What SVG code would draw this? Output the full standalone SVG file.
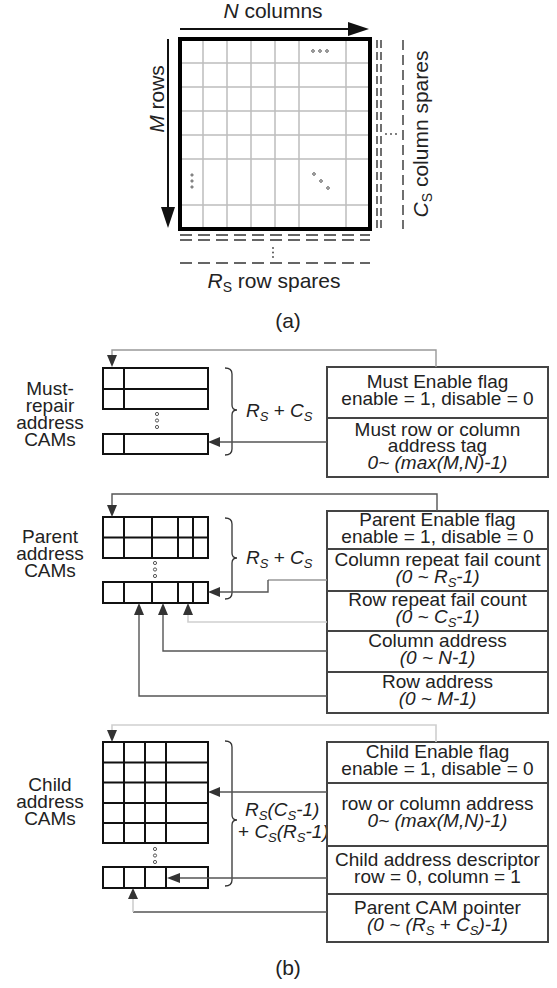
<svg xmlns="http://www.w3.org/2000/svg" width="557" height="988" viewBox="0 0 557 988">
<style>
.t{font-family:"Liberation Sans",Arial,sans-serif;font-size:19px;fill:#222;text-anchor:middle}
.ta{font-family:"Liberation Sans",Arial,sans-serif;font-size:21px;fill:#222;text-anchor:middle}
.l{font-family:"Liberation Sans",Arial,sans-serif;font-size:19px;fill:#222;text-anchor:start}
.i{font-style:italic}
.g{stroke:#bdbdbd;stroke-width:1.5;fill:none}
.d1{stroke:#333;stroke-width:1.4;fill:none;stroke-dasharray:8 4}
.d2{stroke:#333;stroke-width:1.4;fill:none;stroke-dasharray:12 6}
.dot{fill:none;stroke:#444;stroke-width:0.9}
.cam{fill:#fff;stroke:#111;stroke-width:2}
.cl{stroke:#111;stroke-width:2;fill:none}
.tb{fill:#fff;stroke:#444;stroke-width:2}
.ts{stroke:#444;stroke-width:2;fill:none}
.br{stroke:#333;stroke-width:1.3;fill:none}
.cd{stroke:#555;stroke-width:1.4;fill:none}
.cm{stroke:#999;stroke-width:1.4;fill:none}
.cg{stroke:#cfcfcf;stroke-width:1.6;fill:none}
.ah{fill:#333}
</style>

<!-- ===== (a) ===== -->
<g id="array">
  <g class="g">
    <line x1="203" y1="39" x2="203" y2="229"/>
    <line x1="227" y1="39" x2="227" y2="229"/>
    <line x1="251" y1="39" x2="251" y2="229"/>
    <line x1="275" y1="39" x2="275" y2="229"/>
    <line x1="299" y1="39" x2="299" y2="229"/>
    <line x1="346" y1="39" x2="346" y2="229"/>
    <line x1="180" y1="63" x2="370" y2="63"/>
    <line x1="180" y1="87" x2="370" y2="87"/>
    <line x1="180" y1="111" x2="370" y2="111"/>
    <line x1="180" y1="135" x2="370" y2="135"/>
    <line x1="180" y1="159" x2="370" y2="159"/>
    <line x1="180" y1="205" x2="370" y2="205"/>
  </g>
  <rect x="180" y="39" width="190" height="190" fill="none" stroke="#000" stroke-width="4"/>
  <circle class="dot" cx="313" cy="51" r="1.3"/><circle class="dot" cx="320" cy="51" r="1.3"/><circle class="dot" cx="327" cy="51" r="1.3"/>
  <circle class="dot" cx="192" cy="175" r="1.1" fill="#444"/><circle class="dot" cx="192" cy="181" r="1.1" fill="#444"/><circle class="dot" cx="192" cy="187" r="1.1" fill="#444"/>
  <circle class="dot" cx="314" cy="174" r="1.3"/><circle class="dot" cx="321" cy="181" r="1.3"/><circle class="dot" cx="328" cy="188" r="1.3"/>
</g>

<g id="ncols">
  <line x1="180" y1="29" x2="350" y2="29" stroke="#111" stroke-width="2"/>
  <polygon points="348,22 369,29 348,36" fill="#111"/>
  <text class="ta" x="273" y="18"><tspan class="i">N</tspan> columns</text>
</g>

<g id="mrows">
  <line x1="168" y1="39" x2="168" y2="210" stroke="#111" stroke-width="2"/>
  <polygon points="161,207 175,207 168,228" fill="#111"/>
  <text class="ta" transform="translate(164,99) rotate(-90)"><tspan class="i">M</tspan> rows</text>
</g>

<g id="colspares">
  <line class="d1" x1="377" y1="40" x2="377" y2="229"/>
  <line class="d1" x1="381" y1="40" x2="381" y2="229"/>
  <line x1="403" y1="40" x2="403" y2="229" stroke="#333" stroke-width="1.4" stroke-dasharray="10 5"/>
  <circle cx="386" cy="134" r="0.9" fill="#444"/><circle cx="391" cy="134" r="0.9" fill="#444"/><circle cx="396" cy="134" r="0.9" fill="#444"/>
  <text class="ta" transform="translate(428,134) rotate(-90)"><tspan class="i">C</tspan><tspan font-size="14" dy="4">S</tspan><tspan dy="-4"> column spares</tspan></text>
</g>

<g id="rowspares">
  <line class="d2" x1="180" y1="235" x2="370" y2="235"/>
  <line class="d2" x1="180" y1="240" x2="370" y2="240"/>
  <line class="d2" x1="180" y1="263" x2="370" y2="263"/>
  <circle cx="273" cy="248" r="0.9" fill="#444"/><circle cx="273" cy="252.5" r="0.9" fill="#444"/><circle cx="273" cy="257" r="0.9" fill="#444"/>
  <text class="ta" x="274" y="288"><tspan class="i">R</tspan><tspan font-size="14" dy="4">S</tspan><tspan dy="-4"> row spares</tspan></text>
</g>

<text id="cap-a" class="ta" x="288" y="328" font-size="22">(a)</text>

<!-- ===== (b) ===== -->
<!-- Must-repair -->
<g id="must-label">
  <text class="t" x="50" y="395">Must-</text>
  <text class="t" x="50" y="412">repair</text>
  <text class="t" x="50" y="429">address</text>
  <text class="t" x="50" y="446">CAMs</text>
</g>
<g id="must-cam">
  <rect class="cam" x="103" y="368" width="105" height="41"/>
  <line class="cl" x1="103" y1="389" x2="208" y2="389"/>
  <line class="cl" x1="124" y1="368" x2="124" y2="409"/>
  <circle class="dot" cx="157" cy="414" r="1.6"/><circle class="dot" cx="157" cy="420.5" r="1.6"/><circle class="dot" cx="157" cy="427" r="1.6"/>
  <rect class="cam" x="103" y="434" width="105" height="20"/>
  <line class="cl" x1="124" y1="434" x2="124" y2="454"/>
</g>
<g id="must-brace">
  <path class="br" d="M225,368 Q232,368 232,374 L232,405 Q232,410 237,410 Q232,410 232,415 L232,449 Q232,455 225,455"/>
  <text class="l" x="246" y="417"><tspan class="i">R</tspan><tspan font-size="13" dy="4" class="i">S</tspan><tspan dy="-4"> + </tspan><tspan class="i">C</tspan><tspan font-size="13" dy="4" class="i">S</tspan></text>
</g>
<g id="must-table">
  <rect class="tb" x="327" y="367" width="221" height="110"/>
  <line class="ts" x1="327" y1="418" x2="548" y2="418"/>
  <text class="t" x="437.5" y="388">Must Enable flag</text>
  <text class="t" x="437.5" y="405">enable = 1, disable = 0</text>
  <text class="t" x="437.5" y="435.5">Must row or column</text>
  <text class="t" x="437.5" y="452">address tag</text>
  <text class="t i" x="437.5" y="468.5">0~ (max(M,N)-1)</text>
</g>

<!-- Parent -->
<g id="parent-label">
  <text class="t" x="50" y="543">Parent</text>
  <text class="t" x="50" y="560">address</text>
  <text class="t" x="50" y="577">CAMs</text>
</g>
<g id="parent-cam">
  <rect class="cam" x="103" y="517" width="105" height="41"/>
  <line class="cl" x1="103" y1="537.5" x2="208" y2="537.5"/>
  <line class="cl" x1="124" y1="517" x2="124" y2="558"/>
  <line class="cl" x1="152" y1="517" x2="152" y2="558"/>
  <line class="cl" x1="178" y1="517" x2="178" y2="558"/>
  <line class="cl" x1="193" y1="517" x2="193" y2="558"/>
  <circle class="dot" cx="155" cy="563" r="1.6"/><circle class="dot" cx="155" cy="569.5" r="1.6"/><circle class="dot" cx="155" cy="576" r="1.6"/>
  <rect class="cam" x="103" y="582" width="105" height="21"/>
  <line class="cl" x1="124" y1="582" x2="124" y2="603"/>
  <line class="cl" x1="152" y1="582" x2="152" y2="603"/>
  <line class="cl" x1="178" y1="582" x2="178" y2="603"/>
  <line class="cl" x1="193" y1="582" x2="193" y2="603"/>
</g>
<g id="parent-brace">
  <path class="br" d="M225,518 Q232,518 232,524 L232,553 Q232,558 237,558 Q232,558 232,563 L232,593 Q232,599 225,599"/>
  <text class="l" x="246" y="564"><tspan class="i">R</tspan><tspan font-size="13" dy="4" class="i">S</tspan><tspan dy="-4"> + </tspan><tspan class="i">C</tspan><tspan font-size="13" dy="4" class="i">S</tspan></text>
</g>
<g id="parent-table">
  <rect class="tb" x="327" y="511" width="221" height="202"/>
  <line class="ts" x1="327" y1="549" x2="548" y2="549"/>
  <line class="ts" x1="327" y1="591" x2="548" y2="591"/>
  <line class="ts" x1="327" y1="631" x2="548" y2="631"/>
  <line class="ts" x1="327" y1="672" x2="548" y2="672"/>
  <text class="t" x="437.5" y="526">Parent Enable flag</text>
  <text class="t" x="437.5" y="543">enable = 1, disable = 0</text>
  <text class="t" x="437.5" y="566">Column repeat fail count</text>
  <text class="t i" x="437.5" y="583">(0 ~ R<tspan font-size="13" dy="4">S</tspan><tspan dy="-4">-1)</tspan></text>
  <text class="t" x="437.5" y="606">Row repeat fail count</text>
  <text class="t i" x="437.5" y="623">(0 ~ C<tspan font-size="13" dy="4">S</tspan><tspan dy="-4">-1)</tspan></text>
  <text class="t" x="437.5" y="647">Column address</text>
  <text class="t i" x="437.5" y="664">(0 ~ N-1)</text>
  <text class="t" x="437.5" y="688">Row address</text>
  <text class="t i" x="437.5" y="705">(0 ~ M-1)</text>
</g>

<!-- Child -->
<g id="child-label">
  <text class="t" x="50" y="791">Child</text>
  <text class="t" x="50" y="808">address</text>
  <text class="t" x="50" y="825">CAMs</text>
</g>
<g id="child-cam">
  <rect class="cam" x="103" y="742" width="105" height="101"/>
  <line class="cl" x1="103" y1="762.5" x2="208" y2="762.5"/>
  <line class="cl" x1="103" y1="782.5" x2="208" y2="782.5"/>
  <line class="cl" x1="103" y1="803" x2="208" y2="803"/>
  <line class="cl" x1="103" y1="823" x2="208" y2="823"/>
  <line class="cl" x1="124" y1="742" x2="124" y2="843"/>
  <line class="cl" x1="145" y1="742" x2="145" y2="843"/>
  <line class="cl" x1="166" y1="742" x2="166" y2="843"/>
  <circle class="dot" cx="155" cy="849" r="1.6"/><circle class="dot" cx="155" cy="855.5" r="1.6"/><circle class="dot" cx="155" cy="862" r="1.6"/>
  <rect class="cam" x="103" y="867" width="105" height="21"/>
  <line class="cl" x1="124" y1="867" x2="124" y2="888"/>
  <line class="cl" x1="145" y1="867" x2="145" y2="888"/>
  <line class="cl" x1="166" y1="867" x2="166" y2="888"/>
</g>
<g id="child-brace">
  <path class="br" d="M225,741 Q232,741 232,747 L232,815 Q232,820 237,820 Q232,820 232,825 L232,880 Q232,886 225,886"/>
  <text class="l i" x="245" y="816">R<tspan font-size="13" dy="4">S</tspan><tspan dy="-4">(C</tspan><tspan font-size="13" dy="4">S</tspan><tspan dy="-4">-1)</tspan></text>
  <text class="l" x="238" y="838">+ <tspan class="i">C</tspan><tspan class="i" font-size="13" dy="4">S</tspan><tspan class="i" dy="-4">(R</tspan><tspan class="i" font-size="13" dy="4">S</tspan><tspan class="i" dy="-4">-1)</tspan></text>
</g>
<g id="child-table">
  <rect class="tb" x="327" y="742" width="221" height="200"/>
  <line class="ts" x1="327" y1="783" x2="548" y2="783"/>
  <line class="ts" x1="327" y1="846" x2="548" y2="846"/>
  <line class="ts" x1="327" y1="894" x2="548" y2="894"/>
  <text class="t" x="437.5" y="758">Child Enable flag</text>
  <text class="t" x="437.5" y="775">enable = 1, disable = 0</text>
  <text class="t" x="437.5" y="810">row or column address</text>
  <text class="t i" x="437.5" y="827">0~ (max(M,N)-1)</text>
  <text class="t" x="437.5" y="866">Child address descriptor</text>
  <text class="t" x="437.5" y="883">row = 0, column = 1</text>
  <text class="t" x="437.5" y="914">Parent CAM pointer</text>
  <text class="t i" x="437.5" y="931">(0 ~ (R<tspan font-size="13" dy="4">S</tspan><tspan dy="-4"> + C</tspan><tspan font-size="13" dy="4">S</tspan><tspan dy="-4">)-1)</tspan></text>
</g>

<text id="cap-b" class="ta" x="288" y="975" font-size="22">(b)</text>

<!-- connectors -->
<g id="connectors">
  <!-- must -->
  <polyline class="cm" points="436,367 436,350 112,350 112,356"/>
  <polygon class="ah" points="107,355 117,355 112,367"/>
  <line class="cd" x1="327" y1="442" x2="218" y2="442"/>
  <polygon class="ah" points="208,442 220,437 220,447"/>
  <!-- parent -->
  <polyline class="cd" points="437,511 437,494 112,494 112,506"/>
  <polygon class="ah" points="107,505 117,505 112,517"/>
  <polyline class="cm" points="327,580 268,580"/>
  <polyline class="cd" points="268,580 268,592 219,592"/>
  <polygon class="ah" points="208,592 220,587 220,597"/>
  <polyline class="cg" points="327,622 188,622 188,614"/>
  <polygon class="ah" points="183,615 193,615 188,603"/>
  <polyline class="cd" points="327,651 163,651 163,614"/>
  <polygon class="ah" points="158,615 168,615 163,603"/>
  <polyline class="cd" points="327,696 139,696 139,614"/>
  <polygon class="ah" points="134,615 144,615 139,603"/>
  <!-- child -->
  <polyline class="cg" points="436,742 436,725 112,725 112,731"/>
  <polygon class="ah" points="107,730 117,730 112,742"/>
  <line class="cd" x1="327" y1="792" x2="219" y2="792"/>
  <polygon class="ah" points="208,792 220,787 220,797"/>
  <line class="cd" x1="327" y1="878" x2="179" y2="878"/>
  <polygon class="ah" points="167,878 180,873 180,883"/>
  <polyline class="cd" points="327,912 133,912"/>
  <polyline class="cg" points="133,912 133,899"/>
  <polygon class="ah" points="128,899 138,899 133,888"/>
</g>
</svg>
